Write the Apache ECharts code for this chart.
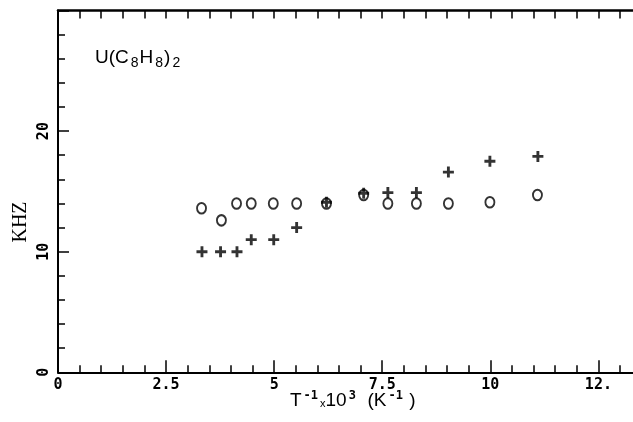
<!DOCTYPE html>
<html>
<head>
<meta charset="utf-8">
<script src="https://cdn.jsdelivr.net/npm/echarts@6/dist/echarts.min.js"></script>
<style>
  html, body { margin: 0; padding: 0; background: #fff; }
  #main { width: 633px; height: 422px; }
</style>
</head>
<body>
<div id="main"></div>
<script>
// 1/T x 10^3 values and frequencies (kHz)
var circleX = [3.32, 3.78, 4.13, 4.47, 4.98, 5.52, 6.21, 7.07, 7.63, 8.29, 9.03, 9.99, 11.09];
var circleY = [13.6, 12.6, 14.0, 14.0, 14.0, 14.0, 14.0, 14.7, 14.0, 14.0, 14.0, 14.1, 14.7];
var plusX = [3.33, 3.76, 4.14, 4.47, 4.99, 5.52, 6.21, 7.07, 7.63, 8.29, 9.03, 9.99, 11.1];
var plusY = [10.0, 10.0, 10.0, 11.0, 11.0, 12.0, 14.1, 14.85, 14.9, 14.9, 16.6, 17.5, 17.9];

// tick labels
var xMajorTicks = [0, 2.5, 5, 7.5, 10, 12.5];
var xTickLabels = ['0', '2.5', '5', '7.5', '10', '12.'];
var yMajorTicks = [0, 10, 20];
var yTickLabels = ['0', '10', '20'];

// minor ticks every 0.5 on x
var xMinorTicks = [];
for (var t = 0; t <= 13.01; t += 0.5) xMinorTicks.push(+t.toFixed(1));

function pairs(xs, ys) {
  return xs.map(function (x, i) { return [x, ys[i]]; });
}

// bold plus sign
var plusPath = 'path://M-0.13,-0.5h0.26v0.37h0.37v0.26h-0.37v0.37h-0.26v-0.37h-0.37v-0.26h0.37z';
var tickFont = { fontFamily: 'DejaVu Sans Mono', fontWeight: 'bold', fontSize: 15, color: '#000' };

var myChart = echarts.init(document.getElementById('main'), null, { renderer: 'canvas' });

myChart.setOption({
  animation: false,
  backgroundColor: '#fff',
  grid: { left: 58, right: 0, top: 10.5, bottom: 49.7, containLabel: false },
  xAxis: [
    {
      // bottom axis, major ticks + labels
      type: 'value', position: 'bottom', min: 0, max: 13.3,
      axisLine: { show: true, lineStyle: { color: '#000', width: 2 } },
      axisTick: { show: true, inside: true, length: 12, customValues: xMajorTicks, lineStyle: { color: '#000', width: 1.5 } },
      axisLabel: {
        show: true, margin: 5, customValues: xMajorTicks,
        formatter: function (v) {
          var i = xMajorTicks.indexOf(+v);
          return i >= 0 ? xTickLabels[i] : '';
        },
        fontFamily: tickFont.fontFamily, fontWeight: tickFont.fontWeight,
        fontSize: tickFont.fontSize, color: tickFont.color
      },
      splitLine: { show: false }
    },
    {
      // bottom axis, minor ticks
      type: 'value', position: 'bottom', min: 0, max: 13.3,
      axisLine: { show: false },
      axisTick: { show: true, inside: true, length: 7, customValues: xMinorTicks, lineStyle: { color: '#000', width: 1.5 } },
      axisLabel: { show: false },
      splitLine: { show: false }
    },
    {
      // top frame
      type: 'value', position: 'top', min: 0, max: 13.3,
      axisLine: { show: true, lineStyle: { color: '#000', width: 2.5 } },
      axisTick: { show: true, inside: true, length: 8, customValues: xMinorTicks, lineStyle: { color: '#000', width: 1.5 } },
      axisLabel: { show: false },
      splitLine: { show: false }
    }
  ],
  yAxis: [
    {
      type: 'value', min: 0, max: 30, interval: 10,
      axisLine: { show: true, lineStyle: { color: '#000', width: 2 } },
      axisTick: { show: true, inside: true, length: 11, lineStyle: { color: '#000', width: 1.5 } },
      minorTick: { show: true, splitNumber: 5, length: 7, lineStyle: { color: '#000', width: 1.5 } },
      axisLabel: {
        show: true, rotate: 90, margin: 6,
        formatter: function (v) {
          var i = yMajorTicks.indexOf(+v);
          return i >= 0 ? yTickLabels[i] : '';
        },
        fontFamily: tickFont.fontFamily, fontWeight: tickFont.fontWeight,
        fontSize: tickFont.fontSize, color: tickFont.color
      },
      splitLine: { show: false }
    }
  ],
  graphic: [
    {
      type: 'text', left: 95, top: 48,
      style: {
        text: '{b|U(C}{s|8}{b|H}{s|8}{b|)}{s|2}',
        rich: {
          b: { fontFamily: 'Liberation Sans', fontSize: 19, color: '#000', padding: [0, 1, 0, 0] },
          s: { fontFamily: 'Liberation Sans', fontSize: 14, color: '#000', padding: [11, 1, 0, 1] }
        }
      }
    },
    {
      type: 'text', x: 21, y: 222, rotation: Math.PI / 2,
      style: {
        text: 'KHZ', fontFamily: 'Liberation Serif', fontSize: 20, fill: '#000',
        align: 'center', verticalAlign: 'middle'
      }
    },
    {
      type: 'text', left: 290, top: 390,
      style: {
        text: '{n|T}{p|-1}{x|x}{n|10}{p|3}{n|  (K}{p|-1}{n| )}',
        rich: {
          n: { fontFamily: 'Liberation Sans', fontSize: 19, color: '#000' },
          x: { fontFamily: 'Liberation Sans', fontSize: 11, color: '#000', padding: [6, 0, 0, 1] },
          p: { fontFamily: 'DejaVu Sans Mono', fontWeight: 'bold', fontSize: 12, color: '#000', padding: [0, 1, 9, 2] }
        }
      }
    }
  ],
  series: [
    {
      name: 'circles', type: 'scatter', xAxisIndex: 0, yAxisIndex: 0,
      symbol: 'circle', symbolSize: [9, 10.5],
      itemStyle: { color: 'rgba(255,255,255,0)', borderColor: '#000', borderWidth: 2 },
      data: pairs(circleX, circleY)
    },
    {
      name: 'plus', type: 'scatter', xAxisIndex: 0, yAxisIndex: 0,
      symbol: plusPath, symbolSize: 11,
      itemStyle: { color: '#000' },
      data: pairs(plusX, plusY)
    }
  ]
});
</script>
</body>
</html>
